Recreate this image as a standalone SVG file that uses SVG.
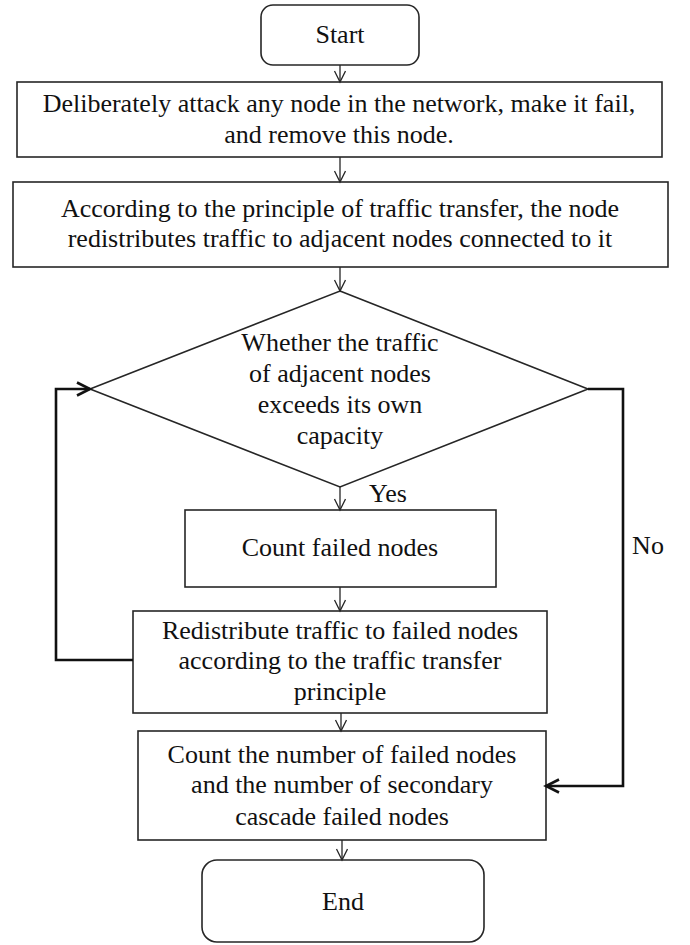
<svg xmlns="http://www.w3.org/2000/svg" width="690" height="945" viewBox="0 0 690 945">
<style>
.box{fill:#fff;stroke:#262626;stroke-width:1.6}
.t{font-family:"Liberation Serif","Times New Roman",serif;font-size:26px;fill:#111;text-anchor:middle}
.c{fill:none;stroke:#262626;stroke-width:1.3}
.ck{fill:none;stroke:#111;stroke-width:2.6}
</style>
<defs>
<marker id="a" markerWidth="14" markerHeight="14" refX="12" refY="6" orient="auto" markerUnits="userSpaceOnUse"><path d="M1,0.5 L12,6 L1,11.5" fill="none" stroke="#262626" stroke-width="1.3"/></marker>
<marker id="ak" markerWidth="18" markerHeight="18" refX="15" refY="8" orient="auto" markerUnits="userSpaceOnUse"><path d="M2,1.5 L15,8 L2,14.5" fill="none" stroke="#111" stroke-width="2.6"/></marker>
</defs>
<rect width="690" height="945" fill="#fff"/>
<g id="start"><rect class="box" x="261" y="5" width="158" height="60" rx="12"/><text class="t" x="340" y="43">Start</text></g>
<g id="attack"><rect class="box" x="17" y="82" width="645" height="75"/><text class="t" x="339" y="112">Deliberately attack any node in the network, make it fail,</text><text class="t" x="339" y="143">and remove this node.</text></g>
<g id="redistribute1"><rect class="box" x="13" y="182" width="655" height="85"/><text class="t" x="340" y="217">According to the principle of traffic transfer, the node</text><text class="t" x="340" y="247">redistributes traffic to adjacent nodes connected to it</text></g>
<g id="decision"><polygon class="box" points="340,291 588,389 340,487 90,389"/><text class="t" x="340" y="351">Whether the traffic</text><text class="t" x="340" y="382">of adjacent nodes</text><text class="t" x="340" y="413">exceeds its own</text><text class="t" x="340" y="444">capacity</text></g>
<g id="countfailed"><rect class="box" x="185" y="510" width="311" height="77"/><text class="t" x="340" y="556">Count failed nodes</text></g>
<g id="redistribute2"><rect class="box" x="133" y="611" width="414" height="102"/><text class="t" x="340" y="639">Redistribute traffic to failed nodes</text><text class="t" x="340" y="669">according to the traffic transfer</text><text class="t" x="340" y="700">principle</text></g>
<g id="countnumber"><rect class="box" x="138" y="731" width="408" height="109"/><text class="t" x="342" y="763">Count the number of failed nodes</text><text class="t" x="342" y="793">and the number of secondary</text><text class="t" x="342" y="825">cascade failed nodes</text></g>
<g id="end"><rect class="box" x="202" y="860" width="282" height="82" rx="15"/><text class="t" x="343" y="910">End</text></g>
<g id="connectors">
<line class="c" x1="340" y1="65" x2="340" y2="82" marker-end="url(#a)"/>
<line class="c" x1="340" y1="157" x2="340" y2="182" marker-end="url(#a)"/>
<line class="c" x1="340" y1="267" x2="340" y2="291" marker-end="url(#a)"/>
<line class="c" x1="340" y1="487" x2="340" y2="510" marker-end="url(#a)"/>
<line class="c" x1="340" y1="587" x2="340" y2="611" marker-end="url(#a)"/>
<line class="c" x1="341" y1="713" x2="341" y2="731" marker-end="url(#a)"/>
<line class="c" x1="342" y1="840" x2="342" y2="860" marker-end="url(#a)"/>
<polyline class="ck" points="133,660 56,660 56,389 90,389" marker-end="url(#ak)"/>
<polyline class="ck" points="588,389 623,389 623,786 546,786" marker-end="url(#ak)"/>
<text class="t" x="388" y="502">Yes</text>
<text class="t" x="648" y="554">No</text>
</g>
</svg>
